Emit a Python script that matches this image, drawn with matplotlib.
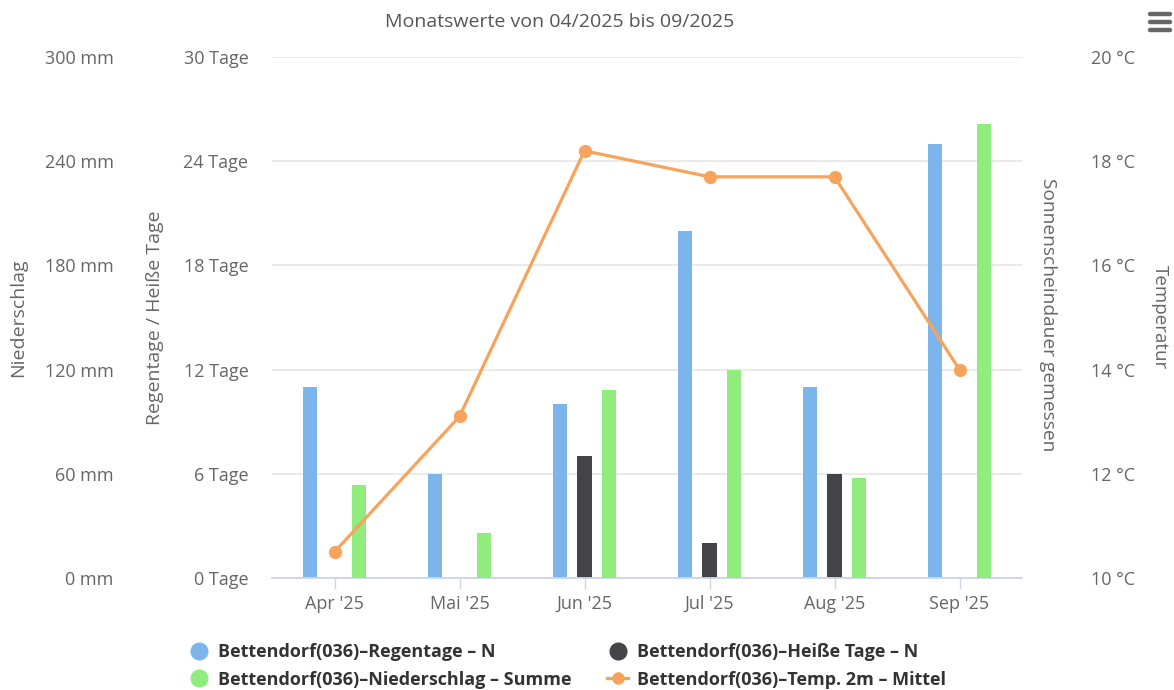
import matplotlib
matplotlib.use("Agg")
import matplotlib.pyplot as plt
from matplotlib.lines import Line2D
import numpy as np

plt.rcParams['font.family'] = ['Open Sans', 'DejaVu Sans']

# data
months = ["Apr '25", "Mai '25", "Jun '25", "Jul '25", "Aug '25", "Sep '25"]
regentage = [11, 6, 10, 20, 11, 25]
heisse_tage = [0, 0, 7, 2, 6, 0]
niederschlag = [53.5, 26, 108, 120, 57.5, 261.5]
temperatur = [10.5, 13.1, 18.2, 17.7, 17.7, 14.0]

days_ticks = [0, 6, 12, 18, 24, 30]
mm_ticks = [0, 60, 120, 180, 240, 300]
temp_ticks = [10, 12, 14, 16, 18, 20]

c_blue = '#7cb5ec'
c_dark = '#434348'
c_green = '#90ed7d'
c_orange = '#f7a35c'
c_text = '#666666'

fig = plt.figure(figsize=(11.74, 6.9), dpi=100)
W, H = 1174, 690
ax = fig.add_axes([272 / W, 1 - 578 / H, (1022 - 272) / W, (578 - 57) / H])

x = np.arange(len(months))
bw = 0.113
off = 0.198

# Tage axis (inner left)
ax.bar(x - off, regentage, width=bw, color=c_blue, zorder=2)
ax.bar(x, heisse_tage, width=bw, color=c_dark, zorder=2)
ax.set_ylim(0, 30)
ax.set_yticks(days_ticks)
ax.set_yticklabels([f"{v} Tage" for v in days_ticks])
ax.set_xlim(-0.5, len(months) - 0.5)
ax.set_xticks(x)
ax.set_xticklabels(months)
ax.grid(axis='y', color='#e6e6e6', linewidth=1.2)
ax.set_axisbelow(True)
for s in ['top', 'right', 'left']:
    ax.spines[s].set_visible(False)
ax.spines['bottom'].set_color('#ccd6eb')
ax.spines['bottom'].set_linewidth(1.3)
ax.tick_params(axis='y', length=0, pad=17, labelsize=13, labelcolor=c_text)
ax.tick_params(axis='x', length=8, width=1, color='#ccd6eb', pad=4,
               labelsize=13, labelcolor=c_text)

# Niederschlag axis (outer left)
ax_mm = ax.twinx()
ax_mm.bar(x + off, niederschlag, width=bw, color=c_green, zorder=2)
ax_mm.set_ylim(0, 300)
ax_mm.yaxis.tick_left()
ax_mm.set_yticks(mm_ticks)
ax_mm.set_yticklabels([f"{v} mm" for v in mm_ticks])
ax_mm.tick_params(axis='y', length=0, pad=114, labelsize=13, labelcolor=c_text)
for s in ax_mm.spines.values():
    s.set_visible(False)

# Temperatur axis (right)
ax_t = ax.twinx()
ax_t.plot(x, temperatur, color=c_orange, linewidth=2.3, marker='o',
          markersize=8.5, zorder=5)
ax_t.set_ylim(10, 20)
ax_t.set_yticks(temp_ticks)
ax_t.set_yticklabels([f"{v} °C" for v in temp_ticks])
ax_t.tick_params(axis='y', length=0, pad=50, labelsize=13, labelcolor=c_text)
for s in ax_t.spines.values():
    s.set_visible(False)

# axis titles
fig.text(18 / W, 1 - 318 / H, "Niederschlag", rotation=90, ha='center',
         va='center', fontsize=14, color=c_text)
fig.text(155 / W, 1 - 318 / H, "Regentage / Heiße Tage", rotation=90,
         ha='center', va='center', fontsize=14, color=c_text)
fig.text(1048 / W, 1 - 315 / H, "Sonnenscheindauer gemessen", rotation=-90,
         ha='center', va='center', fontsize=13.8, color=c_text)
fig.text(1160 / W, 1 - 317 / H, "Temperatur", rotation=-90,
         ha='center', va='center', fontsize=13.5, color=c_text)

fig.text(560 / W, 1 - 22 / H, "Monatswerte von 04/2025 bis 09/2025",
         ha='center', va='center', fontsize=14, color='#555555')

# menu icon
for yy in [14, 22, 30]:
    fig.add_artist(Line2D([1150 / W, 1170 / W], [1 - yy / H, 1 - yy / H],
                          color='#666666', linewidth=3.2,
                          solid_capstyle='round'))

# legend
h_blue = Line2D([], [], linestyle='none', marker='o', markersize=12,
                color=c_blue)
h_dark = Line2D([], [], linestyle='none', marker='o', markersize=12,
                color=c_dark)
h_green = Line2D([], [], linestyle='none', marker='o', markersize=12,
                 color=c_green)
h_orange = Line2D([], [], color=c_orange, linewidth=2.3, marker='o',
                  markersize=8)
leg = fig.legend([h_blue, h_green, h_dark, h_orange],
                 ["Bettendorf(036)–Regentage – N",
                  "Bettendorf(036)–Niederschlag – Summe",
                  "Bettendorf(036)–Heiße Tage – N",
                  "Bettendorf(036)–Temp. 2m – Mittel"],
                 ncol=2, loc='center left', bbox_to_anchor=(172 / W, 1 - 666 / H),
                 frameon=False, handlelength=1.2, handletextpad=0.45,
                 columnspacing=1.95, labelspacing=0.5,
                 prop={'size': 13.0, 'weight': 'bold'})
for t in leg.get_texts():
    t.set_color('#333333')

fig.savefig("out.png", dpi=100)
